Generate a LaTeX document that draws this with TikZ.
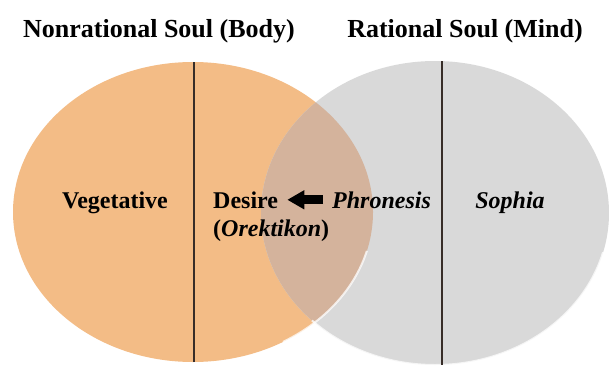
\documentclass[tikz,border=0pt]{standalone}
\usepackage{fontspec}
\setmainfont{Liberation Serif}
\usetikzlibrary{positioning,arrows.meta}
\definecolor{bodyorange}{RGB}{243,188,134}
\definecolor{mindgrey}{RGB}{217,217,217}
\definecolor{overlapbrown}{RGB}{212,179,156}
\definecolor{divline}{RGB}{55,45,40}
\tikzset{
  soulttl/.style={font=\fontsize{26}{30}\selectfont\bfseries,anchor=base,inner sep=2pt},
  partlbl/.style={font=\fontsize{24}{28}\selectfont\bfseries,inner sep=2pt},
  partit/.style={partlbl,font=\fontsize{24}{28}\selectfont\bfseries\itshape},
  divider/.style={line width=1.4pt,divline},
  rimlight/.style={white,line width=2pt,opacity=0.75},
  blockarr/.style={-{Triangle[length=17pt,width=18pt]},line width=9pt,black,
    shorten <=7pt,shorten >=7pt},
}
\begin{document}
\begin{tikzpicture}[x=1pt,y=1pt]
  \useasboundingbox (0,0) rectangle (609,365);
  % the two souls
  \fill[bodyorange] (193,153) ellipse [x radius=180,y radius=150];
  \fill[mindgrey] (435,152) ellipse [x radius=174,y radius=152];
  \begin{scope}
    \clip (193,153) ellipse [x radius=180,y radius=150];
    \fill[overlapbrown] (435,152) ellipse [x radius=174,y radius=152];
  \end{scope}
  % soft rim on the lower edges
  \draw[rimlight] (193,153) ++(300:180 and 150) arc [start angle=300,end angle=345,x radius=180,y radius=150];
  \draw[rimlight] (435,152) ++(225:174 and 152) arc [start angle=225,end angle=345,x radius=174,y radius=152];
  % dividing lines
  \draw[divider] (194,303) -- (194,3);
  \draw[divider] (442,304) -- (442,0);
  % headings
  \node[soulttl] (body) at (159,327) {Nonrational Soul (Body)};
  \node[soulttl] (mind) at (465,327) {Rational Soul (Mind)};
  % parts
  \node[partlbl,anchor=base] (veg) at (115,157) {Vegetative};
  \node[partlbl,anchor=base west] (des) at (211,157) {Desire};
  \node[partlbl,anchor=base west] (ore) at (211,129) {(\textit{Orektikon})};
  \node[partit,anchor=base west] (phr) at (330,157) {Phronesis};
  \node[partit,anchor=base] (soph) at (510,157) {Sophia};
  % phronesis acts on desire
  \draw[blockarr] (phr.west) -- (des.east);
\end{tikzpicture}
\end{document}
